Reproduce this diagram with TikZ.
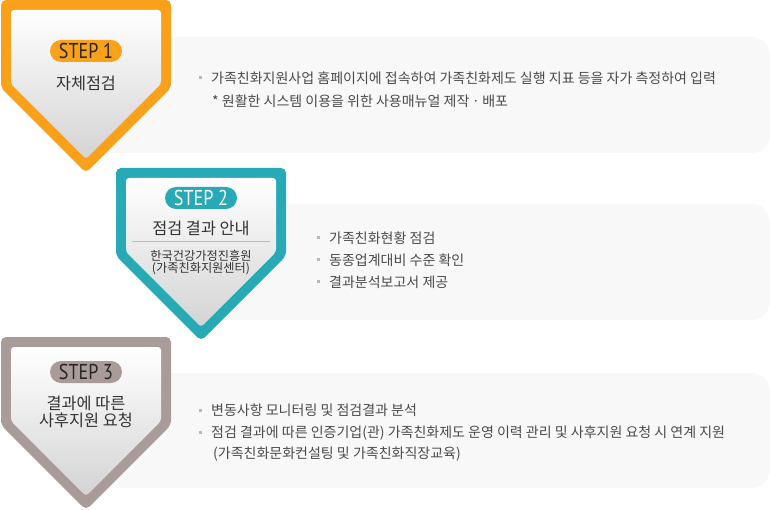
\documentclass[tikz,border=0pt]{standalone}
\usepackage{fontspec}
\setmainfont{Noto Sans CJK KR}
\newfontfamily\stepfont[FakeStretch=0.84]{PT Sans}
\usetikzlibrary{shapes.misc}
\definecolor{cOrange}{HTML}{F9A11B}
\definecolor{cTeal}{HTML}{27A9B6}
\definecolor{cTaupe}{HTML}{A99C98}
\definecolor{cPanel}{HTML}{F8F8F8}
\definecolor{cText}{HTML}{4A4A4A}
\definecolor{cTitle}{HTML}{333333}
\definecolor{cBullet}{HTML}{B8B8B8}
\definecolor{cRule}{HTML}{BBBBBB}
\tikzset{
  shield/.pic={
    \fill[#1, rounded corners=5pt] (0,0) -- (170,0) -- (170,88) -- (85,173) -- (0,88) -- cycle;
    \shade[top color=white, bottom color=black!17, rounded corners=3pt]
      (10,10) -- (160,10) -- (160,84) -- (85,159) -- (10,84) -- cycle;
  },
  panel/.style={fill=cPanel, rounded corners=18pt},
  pill/.style={rounded rectangle, minimum width=72pt, minimum height=22pt, inner sep=0pt,
    font=\stepfont\fontsize{21.5}{21.5}\selectfont},
  title/.style={text=cTitle, font=\fontsize{16.3}{17}\selectfont, align=center, inner sep=0pt},
  subtitle/.style={text=cTitle, font=\fontsize{12.2}{11.5}\selectfont, align=center, inner sep=0pt},
  body/.style={text=cText, font=\fontsize{14}{14}\selectfont, anchor=base west, inner sep=0pt},
  bullet/.style={fill=cBullet, minimum size=3pt, inner sep=0pt},
}
\begin{document}
\begin{tikzpicture}[x=1pt,y=-1pt]
\useasboundingbox (0,0) rectangle (770,510);
% panels
\fill[panel] (86,37) rectangle (770,153);
\fill[panel] (201,204) rectangle (770,320);
\fill[panel] (86,373) rectangle (770,488);
% shields
\pic at (1,0) {shield=cOrange};
\pic at (116,168) {shield=cTeal};
\pic at (1,337) {shield=cTaupe};
% step 1
\node[pill, fill=cOrange, text=black!85] (p1) at (86,51) {STEP 1};
\node[title] (t1) at (86,83) {자체점검};
% step 2
\node[pill, fill=cTeal, text=white] (p2) at (201,198) {STEP 2};
\node[title] (t2) at (201,228) {점검 결과 안내};
\draw[cRule, line width=0.8pt] (132,241) -- (270,241);
\node[subtitle] (t2b) at (201,262.5) {한국건강가정진흥원\\(가족친화지원센터)};
% step 3
\node[pill, fill=cTaupe, text=black!85] (p3) at (86,372) {STEP 3};
\node[title] (t3) at (86,411.5) {결과에 따른\\사후지원 요청};
% panel 1 text
\node[bullet] (b11) at (200,78) {};
\node[body] (l11) at (211,83.3) {가족친화지원사업 홈페이지에 접속하여 가족친화제도 실행 지표 등을 자가 측정하여 입력};
\node[body] (l12) at (212,106.3) {* 원활한 시스템 이용을 위한 사용매뉴얼 제작ㆍ배포};
% panel 2 text
\node[bullet] (b21) at (318,238) {};
\node[bullet] (b22) at (318,260) {};
\node[bullet] (b23) at (318,282) {};
\node[body] (l21) at (329,243.3) {가족친화현황 점검};
\node[body] (l22) at (329,265.3) {동종업계대비 수준 확인};
\node[body] (l23) at (329,287.3) {결과분석보고서 제공};
% panel 3 text
\node[bullet] (b31) at (200,410) {};
\node[bullet] (b32) at (200,432) {};
\node[body] (l31) at (211,415.3) {변동사항 모니터링 및 점검결과 분석};
\node[body] (l32) at (211,437.3) {점검 결과에 따른 인증기업(관) 가족친화제도 운영 이력 관리 및 사후지원 요청 시 연계 지원};
\node[body] (l33) at (213,458.3) {(가족친화문화컨설팅 및 가족친화직장교육)};
\end{tikzpicture}
\end{document}
